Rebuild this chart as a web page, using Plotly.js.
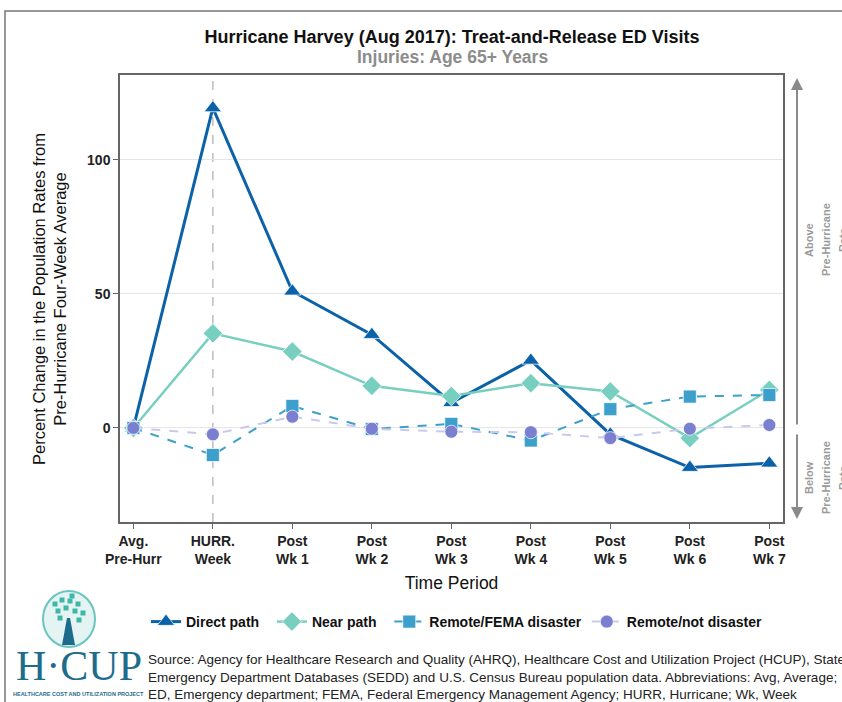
<!DOCTYPE html>
<html><head><meta charset="utf-8">
<script src="https://cdn.plot.ly/plotly-3.0.1.min.js"></script>
<style>body{margin:0;background:#fff}#chart{width:842px;height:702px}</style>
</head><body><div id="chart"></div>
<script>
var categories = ["Avg.<br>Pre-Hurr","HURR.<br>Week","Post<br>Wk 1","Post<br>Wk 2","Post<br>Wk 3","Post<br>Wk 4","Post<br>Wk 5","Post<br>Wk 6","Post<br>Wk 7"];
var seriesNames = ["Direct path\u00a0\u00a0", "Near path\u00a0\u00a0", "Remote/FEMA disaster", "Remote/not disaster"];
var directPath = [0, 119.4, 51.0, 34.8, 9.4, 25.2, -2.4, -14.8, -13.2];
var nearPath = [0, 35.3, 28.5, 15.7, 11.9, 16.7, 13.6, -3.8, 14.2];
var remoteFema = [0, -10.1, 8.2, -0.4, 1.5, -4.7, 7.0, 11.7, 12.3];
var remoteNot = [0, -2.4, 4.2, -0.3, -1.4, -1.6, -3.8, -0.3, 1.1];
var yTicks = [0, 50, 100];

var L = 120, R = 783, T = 75, B = 522, W = 842, H = 702;
function px(x){ return (x - L) / (R - L); }
function py(y){ return (B - y) / (B - T); }
var idx = categories.map(function(_, i){ return i; });

function trace(name, y, color, sym, size, lw, dash, mcolor){
  return {x: idx, y: y, name: name, type: 'scatter', mode: 'lines+markers',
    line: {color: color, width: lw, dash: dash},
    marker: {symbol: sym, size: size, color: mcolor || color, line: {color: 'rgba(255,255,255,0.7)', width: 1}}};
}
var data = [
  trace(seriesNames[0], directPath, '#0b62a8', 'triangle-up', 15, 3, 'solid'),
  trace(seriesNames[1], nearPath, '#78cfbf', 'diamond', 15, 2.5, 'solid'),
  trace(seriesNames[2], remoteFema, '#3d9fcc', 'square', 13, 2, 'dash'),
  trace(seriesNames[3], remoteNot, '#c9c9ee', 'circle', 13, 2, 'dash', '#7a7fcf')
];

var gray = '#9a9a9a';
var sideFont = {family:'Liberation Sans Narrow, Liberation Sans, Arial', size:11, color:gray, weight:'bold'};
function side(xp, yp, t){
  return {xref:'paper', yref:'paper', x: px(xp), y: py(yp), xanchor:'center', yanchor:'middle', text:t, textangle:-90, showarrow:false, font: sideFont};
}
var annotations = [
  {xref:'paper', yref:'paper', x: px(797), y: py(78), ax: 0, ay: 348, showarrow:true, arrowhead:2, arrowsize:1.2, arrowwidth:2, arrowcolor:'#8a8a8a', text:''},
  {xref:'paper', yref:'paper', x: px(797), y: py(519), ax: 0, ay: -86, showarrow:true, arrowhead:2, arrowsize:1.2, arrowwidth:2, arrowcolor:'#8a8a8a', text:''},
  side(809, 240, 'Above'), side(826, 240, 'Pre-Hurricane'), side(843, 240, 'Rate'),
  side(809, 478, 'Below'), side(826, 478, 'Pre-Hurricane'), side(843, 478, 'Rate'),
  {xref:'paper', yref:'paper', x: px(452), y: py(57), xanchor:'center', yanchor:'middle', text:'Injuries: Age 65+ Years', showarrow:false, font:{family:'Liberation Sans, Arial', size:17.5, color:'#8c8c8c', weight:'bold'}},
  {xref:'paper', yref:'paper', x: px(49), y: py(299), xanchor:'center', yanchor:'middle', text:'Percent Change in the Population Rates from<br>Pre-Hurricane Four-Week Average', textangle:-90, showarrow:false, font:{family:'Liberation Sans, Arial', size:16.5, color:'#111'}},
  {xref:'paper', yref:'paper', x: px(146), y: py(677), xanchor:'left', yanchor:'middle', align:'left', text:'Source: Agency for Healthcare Research and Quality (AHRQ), Healthcare Cost and Utilization Project (HCUP), State<br>Emergency Department Databases (SEDD) and U.S. Census Bureau population data. Abbreviations: Avg, Average;<br>ED, Emergency department; FEMA, Federal Emergency Management Agency; HURR, Hurricane; Wk, Week', showarrow:false, font:{family:'Liberation Sans, Arial', size:13.5, color:'#222'}},
  {xref:'paper', yref:'paper', x: px(79), y: py(666), xanchor:'center', yanchor:'middle', text:'H·CUP', showarrow:false, font:{family:'Liberation Serif, Times New Roman, serif', size:42, color:'#1d6c8c'}},
  {xref:'paper', yref:'paper', x: px(78), y: py(694), xanchor:'center', yanchor:'middle', text:'HEALTHCARE COST AND UTILIZATION PROJECT', showarrow:false, font:{family:'Liberation Sans, Arial', size:5.5, color:'#1d6c8c', weight:'bold'}}
];

var shapes = [
  {type:'rect', xref:'paper', yref:'paper', x0: px(5), x1: px(860), y0: py(11), y1: py(720), line:{color:'#777', width:1.5}, fillcolor:'rgba(0,0,0,0)', layer:'below'},
  {type:'line', xref:'x', yref:'paper', x0: 1, x1: 1, y0: 0, y1: 1, line:{color:'#bdbdbd', width:1.5, dash:'dash'}, layer:'below'},
  {type:'circle', xref:'paper', yref:'paper', x0: px(43), x1: px(95), y0: py(591), y1: py(647), line:{color:'#6cc5c0', width:2}, fillcolor:'#e3f4f2'},
  {type:'path', xref:'paper', yref:'paper', path: 'M ' + px(62) + ' ' + py(645) + ' L ' + px(67) + ' ' + py(618) + ' L ' + px(70) + ' ' + py(618) + ' L ' + px(75) + ' ' + py(645) + ' Z', fillcolor:'#1d6c8c', line:{width:0}}
];
var leaves = [[55,604],[62,600],[70,601],[78,604],[58,611],[66,608],[75,611],[83,613],[60,618],[79,620],[72,596]];
leaves.forEach(function(p){
  shapes.push({type:'rect', xref:'paper', yref:'paper', x0: px(p[0]-2.5), x1: px(p[0]+2.5), y0: py(p[1]+2.5), y1: py(p[1]-2.5), fillcolor:'#3fb7a8', line:{width:0}});
});

var layout = {
  width: W, height: H, autosize: false,
  margin: {l: L, r: W - R, t: T, b: H - B, pad: 0},
  paper_bgcolor: '#fff', plot_bgcolor: '#fff',
  font: {family: 'Liberation Sans, Arial', color: '#111'},
  title: {text: 'Hurricane Harvey (Aug 2017): Treat-and-Release ED Visits', x: px(452), xanchor: 'center', xref: 'paper', y: 1 - 37/H, yanchor: 'middle', font: {family: 'Liberation Sans, Arial', size: 18, color: '#111', weight: 'bold'}},
  xaxis: {range: [-0.168, 8.172], tickvals: idx, ticktext: categories, showgrid: false, zeroline: false,
    showline: true, mirror: true, linecolor: '#666', linewidth: 1.5, ticks: 'outside', ticklen: 5, tickcolor: '#666',
    tickfont: {size: 14, weight: 'bold', color: '#222'},
    title: {text: 'Time Period', font: {size: 17.5, color: '#111'}, standoff: 11}},
  yaxis: {range: [-35.1, 131.7], tickvals: yTicks, showgrid: true, gridcolor: '#e6e6e6', zeroline: false,
    showline: true, mirror: true, linecolor: '#666', linewidth: 1.5, ticks: 'outside', ticklen: 5, tickcolor: '#666',
    tickfont: {size: 14, weight: 'bold', color: '#222'}},
  legend: {orientation: 'h', x: px(146), xanchor: 'left', y: py(622), yanchor: 'middle', font: {size: 14, weight: 'bold', color: '#111'}, itemwidth: 30, tracegroupgap: 0},
  showlegend: true,
  annotations: annotations,
  shapes: shapes
};
Plotly.newPlot('chart', data, layout, {displayModeBar: false});
</script></body></html>
